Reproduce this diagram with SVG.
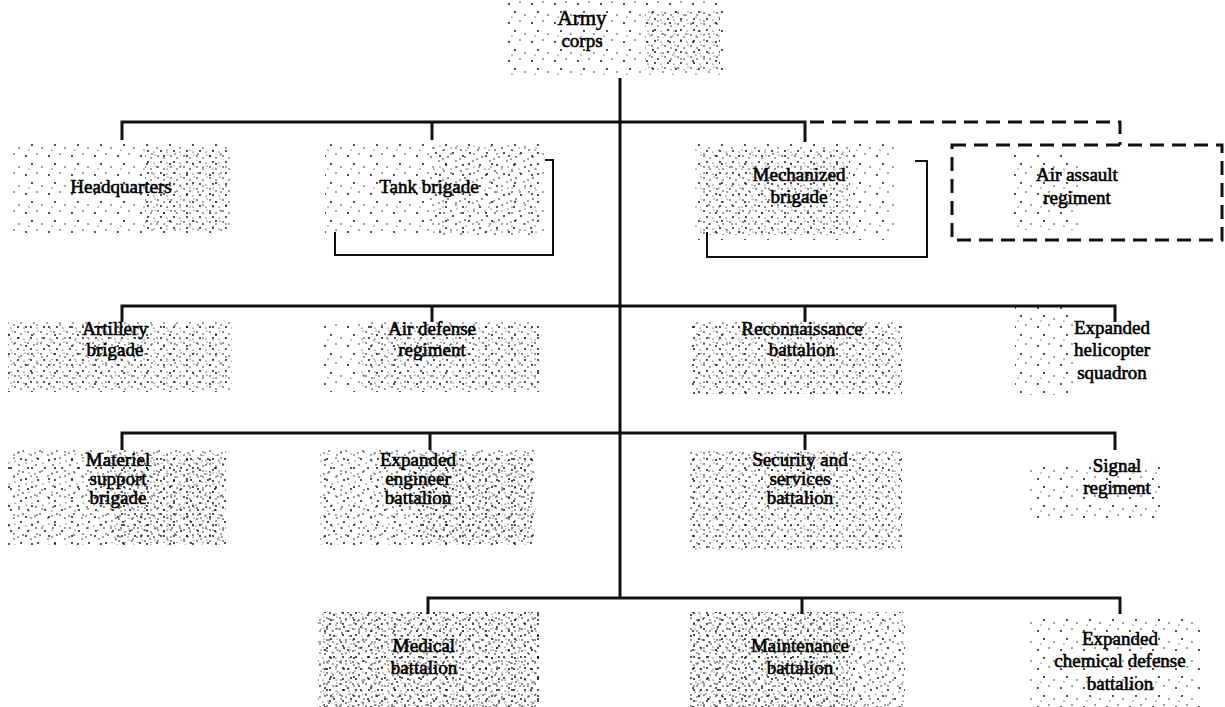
<svg xmlns="http://www.w3.org/2000/svg" width="1225" height="707" viewBox="0 0 1225 707">
<defs>
<pattern id="pA" width="23" height="19" patternUnits="userSpaceOnUse">
<circle cx="3" cy="4" r="0.9"/><circle cx="14" cy="2" r="0.7"/><circle cx="9" cy="12" r="0.9"/><circle cx="19" cy="15" r="0.7"/><circle cx="6" cy="17" r="0.6"/>
</pattern>
<pattern id="pB" width="17" height="21" patternUnits="userSpaceOnUse">
<circle cx="2" cy="3" r="0.8"/><circle cx="11" cy="6" r="0.9"/><circle cx="6" cy="10" r="0.8"/><circle cx="14" cy="14" r="0.7"/><circle cx="4" cy="18" r="0.9"/><circle cx="9" cy="1" r="0.6"/><circle cx="15" cy="20" r="0.6"/><circle cx="1" cy="12" r="0.7"/>
</pattern>
<pattern id="pC" width="13" height="11" patternUnits="userSpaceOnUse">
<circle cx="2" cy="2" r="0.8"/><circle cx="8" cy="4" r="0.7"/><circle cx="5" cy="8" r="0.9"/><circle cx="11" cy="9" r="0.6"/><circle cx="12" cy="1" r="0.5"/>
</pattern>
<style>
.sA{fill:url(#pA)}
.sB{fill:url(#pB)}
.sC{fill:url(#pC)}
.t{font-family:"Liberation Serif","Times New Roman",serif;font-size:19px;fill:#000;stroke:#000;stroke-width:0.6;text-anchor:middle}
.ln{stroke:#111;stroke-width:3;fill:none}
.br{stroke:#111;stroke-width:2;fill:none}
.ds{stroke:#111;stroke-width:3;fill:none;stroke-dasharray:14,8}
</style>
</defs>
<rect width="1225" height="707" fill="#fff"/>

<g id="connectors">
<line class="ln" x1="620" y1="78" x2="620" y2="599"/>
<polyline class="ln" points="122,140 122,122 805,122 805,142"/>
<line class="ln" x1="432" y1="122" x2="432" y2="140"/>
<polyline class="ds" points="810,122 1120,122 1120,145"/>
<polyline class="ln" points="122,322 122,306 1115,306 1115,322"/>
<line class="ln" x1="432" y1="306" x2="432" y2="322"/>
<line class="ln" x1="805" y1="306" x2="805" y2="322"/>
<polyline class="ln" points="122,450 122,433 1115,433 1115,450"/>
<line class="ln" x1="430" y1="433" x2="430" y2="450"/>
<line class="ln" x1="805" y1="433" x2="805" y2="450"/>
<polyline class="ln" points="428,614 428,598 1120,598 1120,614"/>
<line class="ln" x1="802" y1="598" x2="802" y2="614"/>
</g>

<g id="army-corps">
<rect class="sA" x="505" y="0" width="220" height="75"/>
<rect class="sC" x="645" y="10" width="75" height="60"/>
<text class="t" x="582" y="25" style="font-size:21px">Army</text>
<text class="t" x="582" y="47">corps</text>
</g>

<g id="headquarters">
<rect class="sA" x="10" y="140" width="222" height="95"/>
<rect class="sC" x="145" y="150" width="85" height="80"/>
<text class="t" x="121" y="193">Headquarters</text>
</g>

<g id="tank-brigade">
<rect class="sA" x="325" y="140" width="222" height="98"/>
<rect class="sB" x="430" y="145" width="110" height="90"/>
<polyline class="br" points="545,160 553,160 553,255 335,255 335,232"/>
<text class="t" x="429" y="193">Tank brigade</text>
</g>

<g id="mechanized-brigade">
<rect class="sA" x="695" y="140" width="202" height="100"/>
<rect class="sC" x="700" y="150" width="150" height="85"/>
<polyline class="br" points="915,161 927,161 927,257 707,257 707,232"/>
<text class="t" x="799" y="181">Mechanized</text>
<text class="t" x="799" y="203">brigade</text>
</g>

<g id="air-assault-regiment">
<rect class="ds" x="952" y="145" width="270" height="95"/>
<rect class="sA" x="1010" y="155" width="70" height="75"/>
<text class="t" x="1077" y="181">Air assault</text>
<text class="t" x="1077" y="204">regiment</text>
</g>

<g id="artillery-brigade">
<rect class="sA" x="8" y="322" width="224" height="70"/>
<rect class="sC" x="8" y="322" width="224" height="70"/>
<text class="t" x="115" y="335">Artillery</text>
<text class="t" x="115" y="356">brigade</text>
</g>

<g id="air-defense-regiment">
<rect class="sA" x="320" y="322" width="220" height="70"/>
<rect class="sC" x="360" y="322" width="180" height="70"/>
<text class="t" x="432" y="335">Air defense</text>
<text class="t" x="432" y="356">regiment</text>
</g>

<g id="reconnaissance-battalion">
<rect class="sA" x="692" y="322" width="210" height="72"/>
<rect class="sC" x="692" y="322" width="210" height="72"/>
<text class="t" x="802" y="335">Reconnaissance</text>
<text class="t" x="802" y="356">battalion</text>
</g>

<g id="expanded-helicopter-squadron">
<rect class="sA" x="1015" y="305" width="60" height="90"/>
<text class="t" x="1112" y="334">Expanded</text>
<text class="t" x="1112" y="356">helicopter</text>
<text class="t" x="1112" y="379">squadron</text>
</g>

<g id="materiel-support-brigade">
<rect class="sA" x="8" y="450" width="218" height="95"/>
<rect class="sC" x="110" y="455" width="115" height="88"/>
<rect class="sB" x="8" y="450" width="218" height="95"/>
<text class="t" x="118" y="466">Materiel</text>
<text class="t" x="118" y="485">support</text>
<text class="t" x="118" y="504">brigade</text>
</g>

<g id="expanded-engineer-battalion">
<rect class="sA" x="320" y="450" width="215" height="95"/>
<rect class="sC" x="420" y="455" width="112" height="88"/>
<rect class="sB" x="320" y="450" width="215" height="95"/>
<text class="t" x="418" y="466">Expanded</text>
<text class="t" x="418" y="485">engineer</text>
<text class="t" x="418" y="504">battalion</text>
</g>

<g id="security-and-services-battalion">
<rect class="sA" x="690" y="450" width="212" height="100"/>
<rect class="sC" x="690" y="450" width="212" height="100"/>
<text class="t" x="800" y="466">Security and</text>
<text class="t" x="800" y="485">services</text>
<text class="t" x="800" y="504">battalion</text>
</g>

<g id="signal-regiment">
<rect class="sA" x="1030" y="465" width="130" height="55"/>
<text class="t" x="1117" y="472">Signal</text>
<text class="t" x="1117" y="494">regiment</text>
</g>

<g id="medical-battalion">
<rect class="sA" x="318" y="612" width="222" height="95"/>
<rect class="sC" x="318" y="612" width="222" height="95"/>
<rect class="sB" x="318" y="612" width="222" height="95"/>
<text class="t" x="424" y="652">Medical</text>
<text class="t" x="424" y="674">battalion</text>
</g>

<g id="maintenance-battalion">
<rect class="sA" x="690" y="612" width="215" height="95"/>
<rect class="sC" x="690" y="612" width="160" height="95"/>
<rect class="sB" x="690" y="612" width="215" height="95"/>
<text class="t" x="800" y="652">Maintenance</text>
<text class="t" x="800" y="674">battalion</text>
</g>

<g id="expanded-chemical-defense-battalion">
<rect class="sA" x="1030" y="615" width="170" height="92"/>
<text class="t" x="1120" y="645">Expanded</text>
<text class="t" x="1120" y="667">chemical defense</text>
<text class="t" x="1120" y="690">battalion</text>
</g>
</svg>
